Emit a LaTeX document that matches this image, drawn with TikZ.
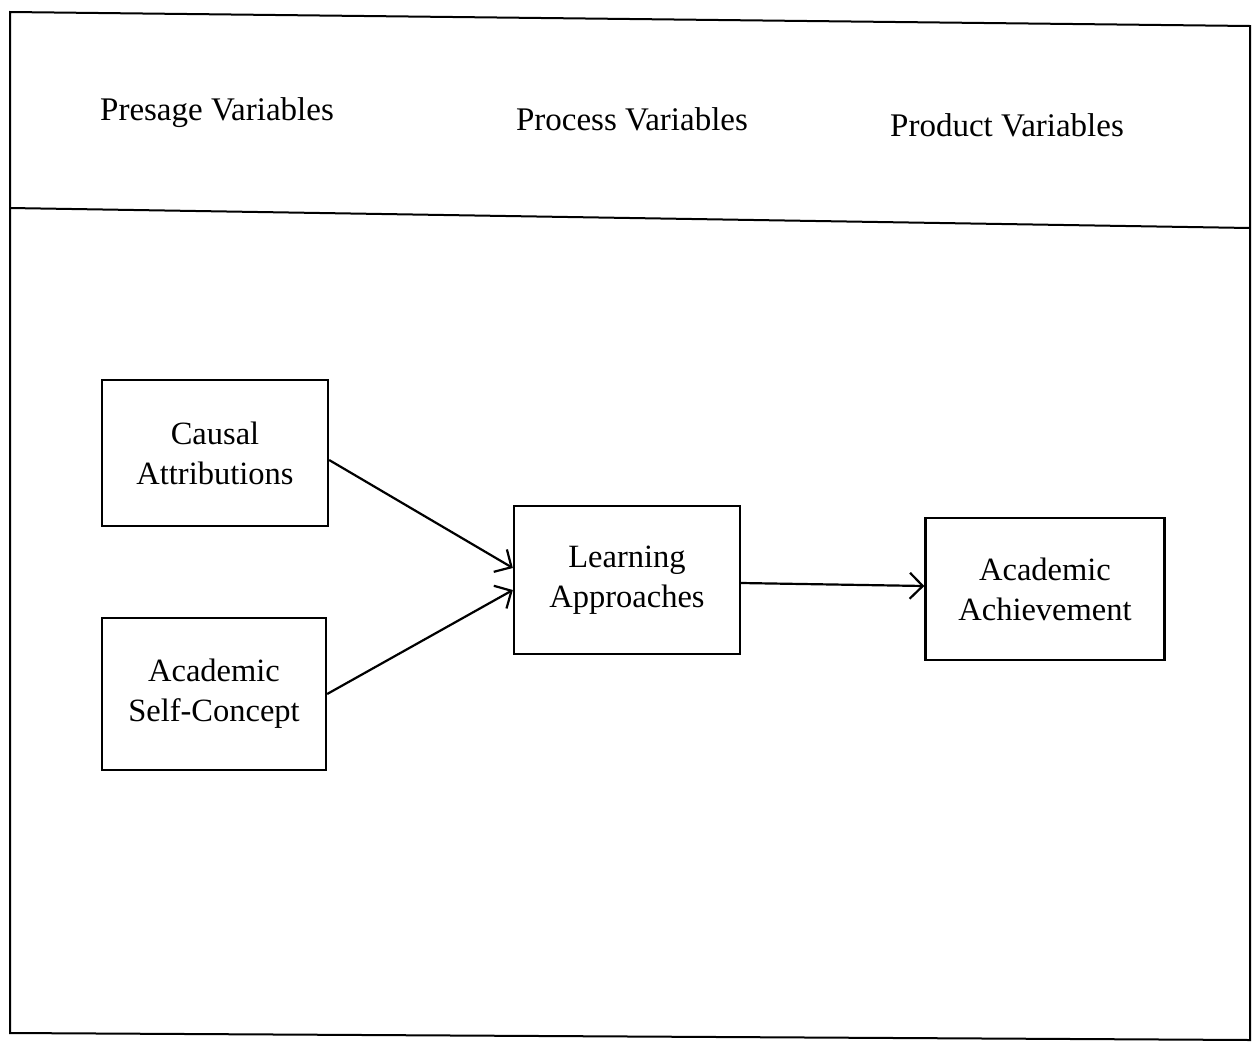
\documentclass[tikz,border=0pt]{standalone}
\usepackage{fontspec}
\setmainfont{Liberation Serif}
\usetikzlibrary{arrows.meta}
\begin{document}
\begin{tikzpicture}[x=1pt,y=-1pt,
  frameline/.style={line width=2pt},
  varbox/.style={draw,line width=2.3pt,align=center,inner sep=0pt,
    font=\fontsize{32.5}{40}\selectfont},
  header/.style={font=\fontsize{33}{38}\selectfont,inner sep=0pt},
  conn/.style={line width=2.2pt,-{Straight Barb[length=13pt,width=26pt,line width=2.2pt]}}]
\useasboundingbox (0,0) rectangle (1253,1050);
\fill[white] (0,0) rectangle (1253,1050);
% frame
\draw[frameline] (10,12) -- (1250,26) -- (1250,1040) -- (10,1033) -- cycle;
\draw[frameline] (10,208) -- (1250,228);
% headers
\node[header] (pres) at (217,113) {Presage Variables};
\node[header] (proc) at (632,119) {Process Variables};
\node[header] (prod) at (1007,125) {Product Variables};
% boxes
\node[varbox,minimum width=226pt,minimum height=146pt] (ca) at (215,453) {Causal\\Attributions};
\node[varbox,minimum width=224pt,minimum height=152pt] (asc) at (214,694) {Academic\\Self-Concept};
\node[varbox,minimum width=226pt,minimum height=148pt] (la) at (627,580) {Learning\\Approaches};
\node[varbox,minimum width=239pt,minimum height=142pt] (aa) at (1045,589) {Academic\\Achievement};
% connectors
\draw[conn] ([yshift=-7pt]ca.east) -- ([yshift=12pt]la.west);
\draw[conn] (asc.east) -- ([yshift=-10pt]la.west);
\draw[conn] ([yshift=-3pt]la.east) -- ([yshift=3pt]aa.west);
\end{tikzpicture}
\end{document}
